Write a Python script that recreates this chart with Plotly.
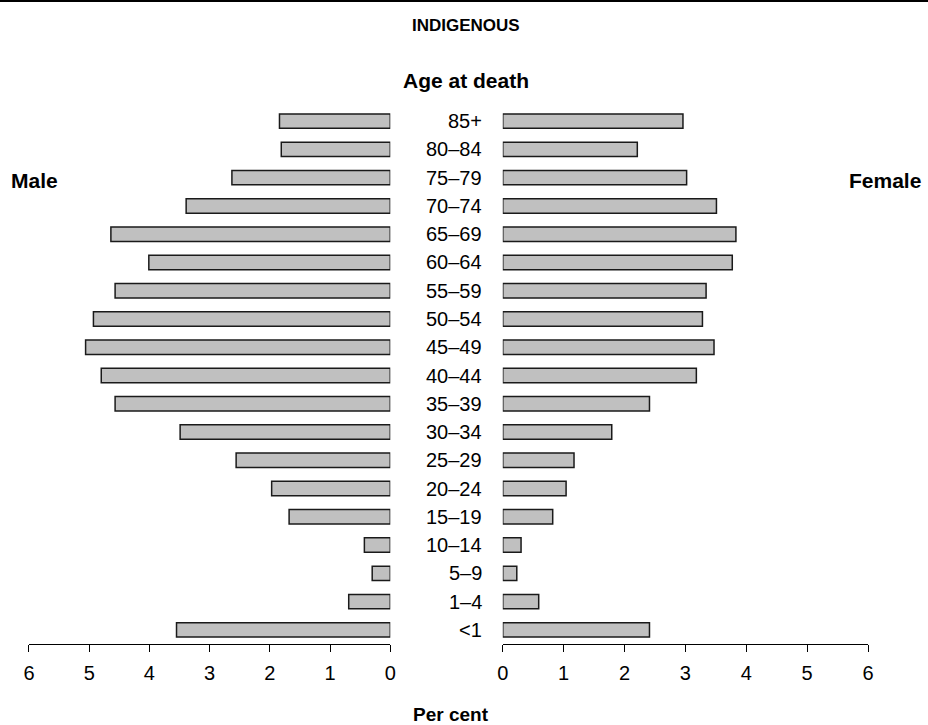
import plotly.graph_objects as go

ages = ["85+", "80–84", "75–79", "70–74", "65–69", "60–64", "55–59", "50–54", "45–49",
        "40–44", "35–39", "30–34", "25–29", "20–24", "15–19", "10–14", "5–9", "1–4", "<1"]
male = [1.84, 1.81, 2.63, 3.39, 4.64, 4.01, 4.57, 4.93, 5.06,
        4.80, 4.57, 3.49, 2.56, 1.97, 1.68, 0.43, 0.30, 0.69, 3.55]
female = [2.96, 2.21, 3.02, 3.51, 3.83, 3.77, 3.34, 3.28, 3.47,
          3.18, 2.41, 1.79, 1.17, 1.04, 0.82, 0.30, 0.23, 0.59, 2.41]
tick_vals = [0, 1, 2, 3, 4, 5, 6]
tick_text = ["0", "1", "2", "3", "4", "5", "6"]

W, H = 928, 725
T, B = 107, 81
PH = H - T - B
FONT = "Arial, Liberation Sans, sans-serif"
BAR_FILL = "#c0c0c0"
BAR_LINE = "#1a1a1a"


def py(p):
    """pixel y (from top of figure) -> paper y"""
    return (H - B - p) / PH


fig = go.Figure()
fig.add_trace(go.Bar(y=ages, x=male, orientation="h", xaxis="x", yaxis="y",
                     marker=dict(color=BAR_FILL, line=dict(color=BAR_LINE, width=1.5)),
                     showlegend=False, hoverinfo="x+y"))
fig.add_trace(go.Bar(y=ages, x=female, orientation="h", xaxis="x2", yaxis="y2",
                     marker=dict(color=BAR_FILL, line=dict(color=BAR_LINE, width=1.5)),
                     showlegend=False, hoverinfo="x+y"))

axis_common = dict(tickmode="array", tickvals=tick_vals, ticktext=tick_text,
                   ticks="outside", ticklen=7, tickwidth=1, tickcolor="black",
                   showline=True, linecolor="black", linewidth=1,
                   showgrid=False, zeroline=False, ticklabelstandoff=4,
                   tickfont=dict(family=FONT, size=20, color="black"))

fig.update_layout(
    width=W, height=H,
    margin=dict(l=0, r=0, t=T, b=B, pad=0),
    paper_bgcolor="white", plot_bgcolor="white",
    bargap=0.49,
    xaxis=dict(domain=[23.3 / W, 389.3 / W], anchor="y", range=[6, 0], **axis_common),
    xaxis2=dict(domain=[503.3 / W, 873.3 / W], anchor="y2", range=[0, 6], **axis_common),
    yaxis=dict(domain=[0, 1], anchor="x", categoryorder="array", categoryarray=ages[::-1],
               showticklabels=False, showline=False, showgrid=False, zeroline=False, ticks=""),
    yaxis2=dict(domain=[0, 1], anchor="x2", categoryorder="array", categoryarray=ages[::-1],
                showticklabels=False, showline=False, showgrid=False, zeroline=False, ticks=""),
    font=dict(family=FONT, color="black"),
)

# Age labels between the panels
for a in ages:
    fig.add_annotation(text=a, x=484 / W, xref="paper", xanchor="right",
                       y=a, yref="y", yanchor="middle", showarrow=False,
                       font=dict(family=FONT, size=20, color="black"))


def label(text, x, y, size=17, xanchor="center"):
    fig.add_annotation(text=f"<b>{text}</b>", x=x / W, y=py(y), xref="paper", yref="paper",
                       xanchor=xanchor, yanchor="middle", showarrow=False,
                       font=dict(family=FONT, size=size, color="black"))


label("INDIGENOUS", 466, 25, 17)
label("Age at death", 466, 80, 21)
label("Male", 3, 180, 21, "left")
label("Female", 929, 180, 21, "right")
label("Per cent", 451, 714, 19)

fig.add_shape(type="line", xref="paper", yref="paper", x0=-0.01, x1=1.01, y0=py(1), y1=py(1),
              line=dict(color="black", width=2))

fig.write_html("out.html", config={"displayModeBar": False},
               post_script="document.body.style.margin='0px';")
